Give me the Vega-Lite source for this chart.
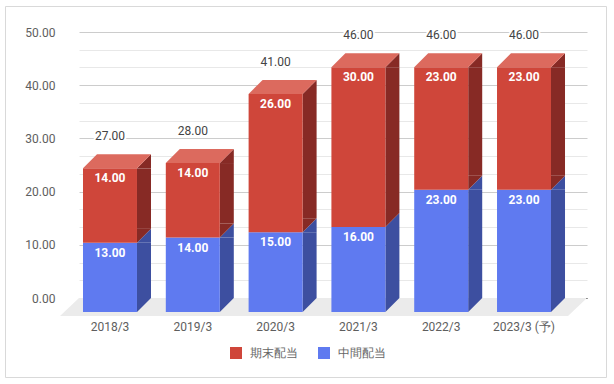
{
  "$schema": "https://vega.github.io/schema/vega-lite/v6.json",
  "autosize": "none",
  "width": 508,
  "height": 266,
  "padding": {"left": 79, "top": 32, "right": 27, "bottom": 86},
  "background": "white",
  "config": {"view": {"stroke": null}, "font": "Roboto"},
  "data": {"values": [
    {"year": "2018/3", "type": "中間配当", "value": 13},
    {"year": "2018/3", "type": "期末配当", "value": 14},
    {"year": "2019/3", "type": "中間配当", "value": 14},
    {"year": "2019/3", "type": "期末配当", "value": 14},
    {"year": "2020/3", "type": "中間配当", "value": 15},
    {"year": "2020/3", "type": "期末配当", "value": 26},
    {"year": "2021/3", "type": "中間配当", "value": 16},
    {"year": "2021/3", "type": "期末配当", "value": 30},
    {"year": "2022/3", "type": "中間配当", "value": 23},
    {"year": "2022/3", "type": "期末配当", "value": 23},
    {"year": "2023/3 (予)", "type": "中間配当", "value": 23},
    {"year": "2023/3 (予)", "type": "期末配当", "value": 23}
  ]},
  "transform": [
    {"stack": "value", "groupby": ["year"], "sort": [{"field": "type", "order": "ascending"}], "as": ["v0", "v1"]}
  ],
  "encoding": {
    "x": {
      "field": "year", "type": "nominal", "sort": null,
      "scale": {"paddingInner": 0.348, "paddingOuter": 0.2415, "align": 0.1},
      "axis": {"title": null, "labelAngle": 0, "domain": false, "ticks": false, "grid": false, "labelPadding": 23, "labelFontSize": 12, "labelColor": "#5e5e5e", "labelFont": "Roboto"}
    },
    "y": {
      "field": "v1", "type": "quantitative",
      "scale": {"domain": [0, 50], "nice": false},
      "axis": {
        "title": null,
        "values": [0, 3.3333, 6.6667, 10, 13.3333, 16.6667, 20, 23.3333, 26.6667, 30, 33.3333, 36.6667, 40, 43.3333, 46.6667, 50],
        "labelExpr": "round(datum.value) % 10 === 0 ? format(datum.value, '.2f') : ''",
        "grid": true,
        "gridColor": {"condition": [{"test": "datum.value === 0", "value": "#333333"}, {"test": "round(datum.value) % 10 === 0", "value": "#cccccc"}], "value": "#e8e8e8"},
        "gridWidth": 1,
        "domain": false, "ticks": false, "labelPadding": 24, "labelFontSize": 12, "labelColor": "#5e5e5e", "labelFont": "Roboto"
      }
    }
  },
  "layer": [
    {
      "transform": [{"aggregate": [{"op": "min", "field": "v0", "as": "base"}]}],
      "mark": {"type": "rect", "fill": null, "stroke": "#d9d9d9", "strokeWidth": 1, "xOffset": -73.5, "x2Offset": 19.5, "yOffset": -25.5, "y2Offset": 79.5},
      "encoding": {
        "x": {"value": 0}, "x2": {"value": "width"},
        "y": {"value": 0}, "y2": {"value": "height"}
      }
    },
    {
      "transform": [{"aggregate": [{"op": "min", "field": "v0", "as": "base"}]}],
      "mark": {"type": "point", "shape": "M-0.9279,-0.0342L1,-0.0342L0.9279,0.0342L-1,0.0342Z", "size": 277729, "filled": true, "fill": "#ebebeb", "opacity": 1, "strokeWidth": 0, "xOffset": -9.5, "yOffset": 9},
      "encoding": {
        "x": {"value": {"expr": "width/2"}},
        "y": {"field": "base", "type": "quantitative"}
      }
    },
    {
      "mark": {"type": "bar", "width": 14, "xOffset": 34, "yOffset": 14, "y2Offset": 0},
      "encoding": {
        "y2": {"field": "v0"},
        "fill": {"condition": {"test": "datum.type === '期末配当'", "value": "#872a25"}, "value": "#3d4fa0"}
      }
    },
    {
      "mark": {"type": "point", "shape": "M-1,1L1,-1L1,1Z", "size": 196, "filled": true, "opacity": 1, "strokeWidth": 0, "xOffset": 34, "yOffset": 7},
      "encoding": {
        "fill": {"condition": {"test": "datum.type === '期末配当'", "value": "#872a25"}, "value": "#3d4fa0"}
      }
    },
    {
      "mark": {"type": "point", "shape": "M-1,1L-1,-1L1,-1Z", "size": 196, "filled": true, "opacity": 1, "strokeWidth": 0, "xOffset": 34, "yOffset": 7},
      "encoding": {
        "y": {"field": "v0", "type": "quantitative"},
        "fill": {"condition": {"test": "datum.type === '期末配当'", "value": "#872a25"}, "value": "#3d4fa0"}
      }
    },
    {
      "mark": {"type": "bar", "yOffset": 14, "y2Offset": 14},
      "encoding": {
        "y2": {"field": "v0"},
        "color": {
          "field": "type", "type": "nominal",
          "scale": {"domain": ["期末配当", "中間配当"], "range": ["#cf463a", "#5f7af0"]},
          "legend": {"orient": "none", "legendX": 151, "legendY": 315, "direction": "horizontal", "title": null, "symbolType": "square", "symbolSize": 144, "symbolStrokeWidth": 0, "labelFontSize": 12, "labelColor": "#666666", "labelFont": "Roboto", "padding": 0, "columnPadding": 20, "labelOffset": 8}
        }
      }
    },
    {
      "transform": [{"filter": "datum.type === '期末配当'"}],
      "mark": {"type": "point", "shape": "M-1,0.2059L-0.5882,-0.2059L1,-0.2059L0.5882,0.2059Z", "size": 4624, "filled": true, "opacity": 1, "fill": "#dc6a5e", "strokeWidth": 0, "xOffset": 7, "yOffset": 7},
      "encoding": {}
    },
    {
      "mark": {"type": "text", "yOffset": 24, "fill": "white", "fontWeight": "bold", "fontSize": 12, "font": "Roboto", "baseline": "middle"},
      "encoding": {"text": {"field": "value", "type": "quantitative", "format": ".2f"}}
    },
    {
      "transform": [{"filter": "datum.type === '期末配当'"}],
      "mark": {"type": "text", "yOffset": -18, "fill": "white", "stroke": "white", "strokeWidth": 4, "fontSize": 12, "font": "Roboto", "baseline": "middle"},
      "encoding": {"text": {"field": "v1", "type": "quantitative", "format": ".2f"}}
    },
    {
      "transform": [{"filter": "datum.type === '期末配当'"}],
      "mark": {"type": "text", "yOffset": -18, "fill": "#444444", "fontSize": 12, "font": "Roboto", "baseline": "middle"},
      "encoding": {"text": {"field": "v1", "type": "quantitative", "format": ".2f"}}
    }
  ]
}
